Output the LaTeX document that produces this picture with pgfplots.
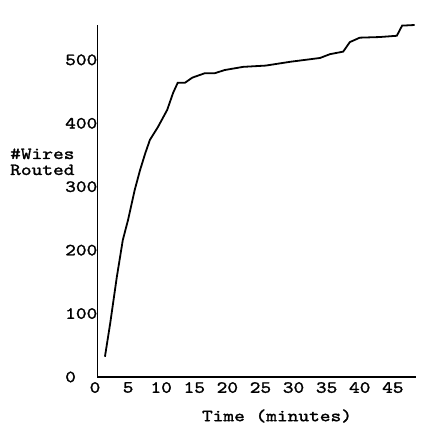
\documentclass[border=0pt]{standalone}
\usepackage{fontspec}
\setmainfont{lmmono10-regular}[Extension=.otf, FakeStretch=1.2, FakeBold=1.5]
\usepackage{pgfplots}
\pgfplotsset{compat=1.18}
\begin{document}
\fontsize{17pt}{15pt}\selectfont
\begin{tikzpicture}[x=1pt,y=1pt]
\useasboundingbox (0,0) rectangle (446,427);
\begin{axis}[
  at={(97pt,50pt)}, anchor=south west,
  scale only axis, width=319pt, height=352pt,
  xmin=0, xmax=48.2, ymin=0, ymax=555,
  axis x line=bottom, axis y line=left,
  axis line style={-, black},
  x axis line style={line width=2pt},
  y axis line style={line width=1pt},
  major tick length=0pt,
  xtick={0,5,...,45}, ytick={0,100,...,500},
  /pgf/number format/assume math mode=true,
  tick label style={font=\fontsize{17pt}{15pt}\selectfont},
  xticklabel style={anchor=north, inner sep=0pt, yshift=-5pt, xshift=-2pt},
  yticklabel style={anchor=west, inner sep=0pt, xshift=-32pt},
  clip=false,
]
\addplot[black, line width=1.8pt] coordinates {
(1.2,32) (2.0,85) (3.0,158) (3.9,216) (4.7,248) (5.7,295) (6.5,326)
(7.3,353) (8.0,374) (9.2,394) (10.6,421) (11.5,448) (12.2,464) (13.3,464)
(14.4,472) (16.3,479) (17.8,479) (19.3,484) (22.1,489) (25.5,491)
(29.2,497) (33.7,503) (35.2,509) (37.2,513) (38.2,528) (39.7,535)
(42.7,536) (45.3,538) (46.1,554) (48.0,555)
};
\end{axis}
\node[anchor=base west, inner sep=0pt, align=left] at (10,268) {\#Wires};
\node[anchor=base west, inner sep=0pt, align=left] at (10,252) {Routed};
\node[inner sep=0pt] at (277,11) {Time (minutes)};
\end{tikzpicture}
\end{document}
